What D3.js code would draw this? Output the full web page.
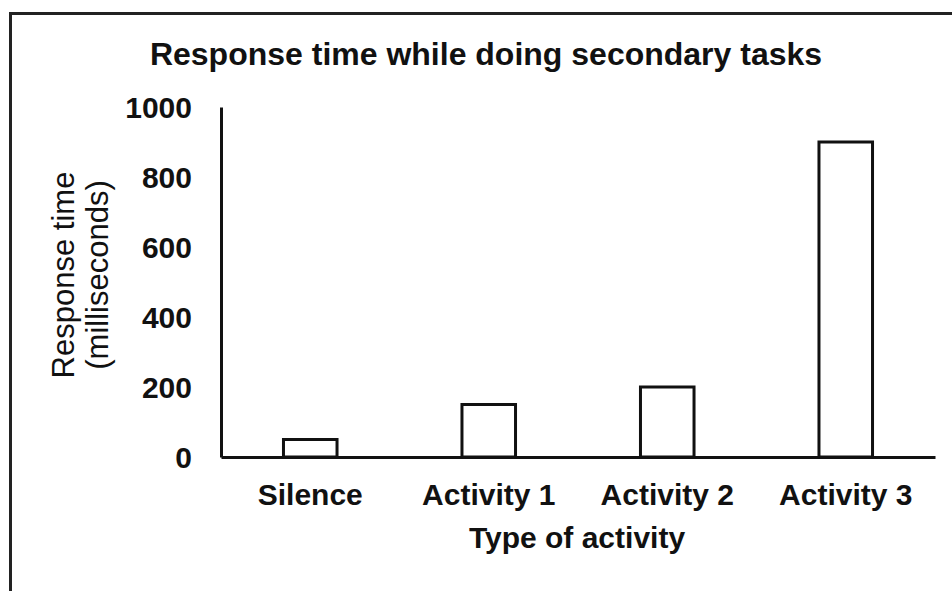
<!DOCTYPE html>
<html>
<head>
<meta charset="utf-8">
<script src="https://cdn.jsdelivr.net/npm/d3@7"></script>
<style>
  body { margin: 0; background: #fff; }
  svg { display: block; font-family: "Liberation Sans", Arial, sans-serif; }
  .title { font-size: 32px; font-weight: bold; fill: #111; }
  .axis text { font-size: 30px; font-weight: bold; fill: #111; font-family: "Liberation Sans", Arial, sans-serif; }
  .label { font-size: 31px; fill: #111; }
  .label.bold { font-size: 30px; font-weight: bold; }
</style>
</head>
<body>
<div class="visualization"></div>
<script>
const categories = ["Silence", "Activity 1", "Activity 2", "Activity 3"];
const responseTimes = [50, 150, 200, 900];
const yTicks = [0, 200, 400, 600, 800, 1000];

const width = 952;
const height = 591;
const margin = { top: 107, right: 17, bottom: 134, left: 221 };

let svg = d3
  .select(".visualization")
  .append("svg")
  .attr("width", width)
  .attr("height", height);

// frame of the scanned page (left and top edges only show)
svg
  .append("path")
  .attr("d", "M10.5,591 L10.5,13.5 L952,13.5")
  .attr("fill", "none")
  .attr("stroke", "#222")
  .attr("stroke-width", 3);

// Title
svg
  .append("text")
  .attr("class", "title")
  .attr("x", 486)
  .attr("y", 65)
  .attr("text-anchor", "middle")
  .text("Response time while doing secondary tasks");

let xScale = d3
  .scaleBand()
  .domain(categories)
  .range([margin.left, width - margin.right])
  .paddingInner(0.7)
  .paddingOuter(0.35);

let yScale = d3
  .scaleLinear()
  .domain([0, 1000])
  .range([height - margin.bottom, margin.top]);

// bars
svg
  .selectAll(".bar")
  .data(categories)
  .enter()
  .append("rect")
  .attr("class", "bar")
  .attr("x", (d) => xScale(d))
  .attr("y", (d, i) => yScale(responseTimes[i]))
  .attr("width", xScale.bandwidth())
  .attr("height", (d, i) => yScale(0) - yScale(responseTimes[i]))
  .attr("fill", "#fff")
  .attr("stroke", "#111")
  .attr("stroke-width", 3);

let yAxis = d3
  .axisLeft(yScale)
  .tickValues(yTicks)
  .tickSize(0)
  .tickSizeOuter(0)
  .tickPadding(29)
  .tickFormat(d3.format("d"));

let yAxisGroup = svg
  .append("g")
  .attr("class", "axis")
  .attr("transform", `translate(${margin.left}, 0)`)
  .call(yAxis);
yAxisGroup.select(".domain").attr("stroke", "#111").attr("stroke-width", 3);
yAxisGroup.selectAll("text").attr("dy", "0.36em");

let xAxis = d3.axisBottom(xScale).tickSize(0).tickSizeOuter(0).tickPadding(27);

let xAxisGroup = svg
  .append("g")
  .attr("class", "axis")
  .attr("transform", `translate(0, ${yScale(0)})`)
  .call(xAxis);
xAxisGroup.select(".domain").attr("stroke", "#111").attr("stroke-width", 3);

// axis labels
svg
  .append("text")
  .attr("class", "label bold")
  .attr("text-anchor", "middle")
  .attr("x", 577)
  .attr("y", 548)
  .text("Type of activity");

let yLabel = svg
  .append("g")
  .attr("transform", `translate(0, 275) rotate(-90)`);

yLabel
  .append("text")
  .attr("class", "label")
  .attr("text-anchor", "middle")
  .attr("y", 74)
  .text("Response time");

yLabel
  .append("text")
  .attr("class", "label")
  .attr("text-anchor", "middle")
  .attr("y", 108)
  .text("(milliseconds)");
</script>
</body>
</html>
